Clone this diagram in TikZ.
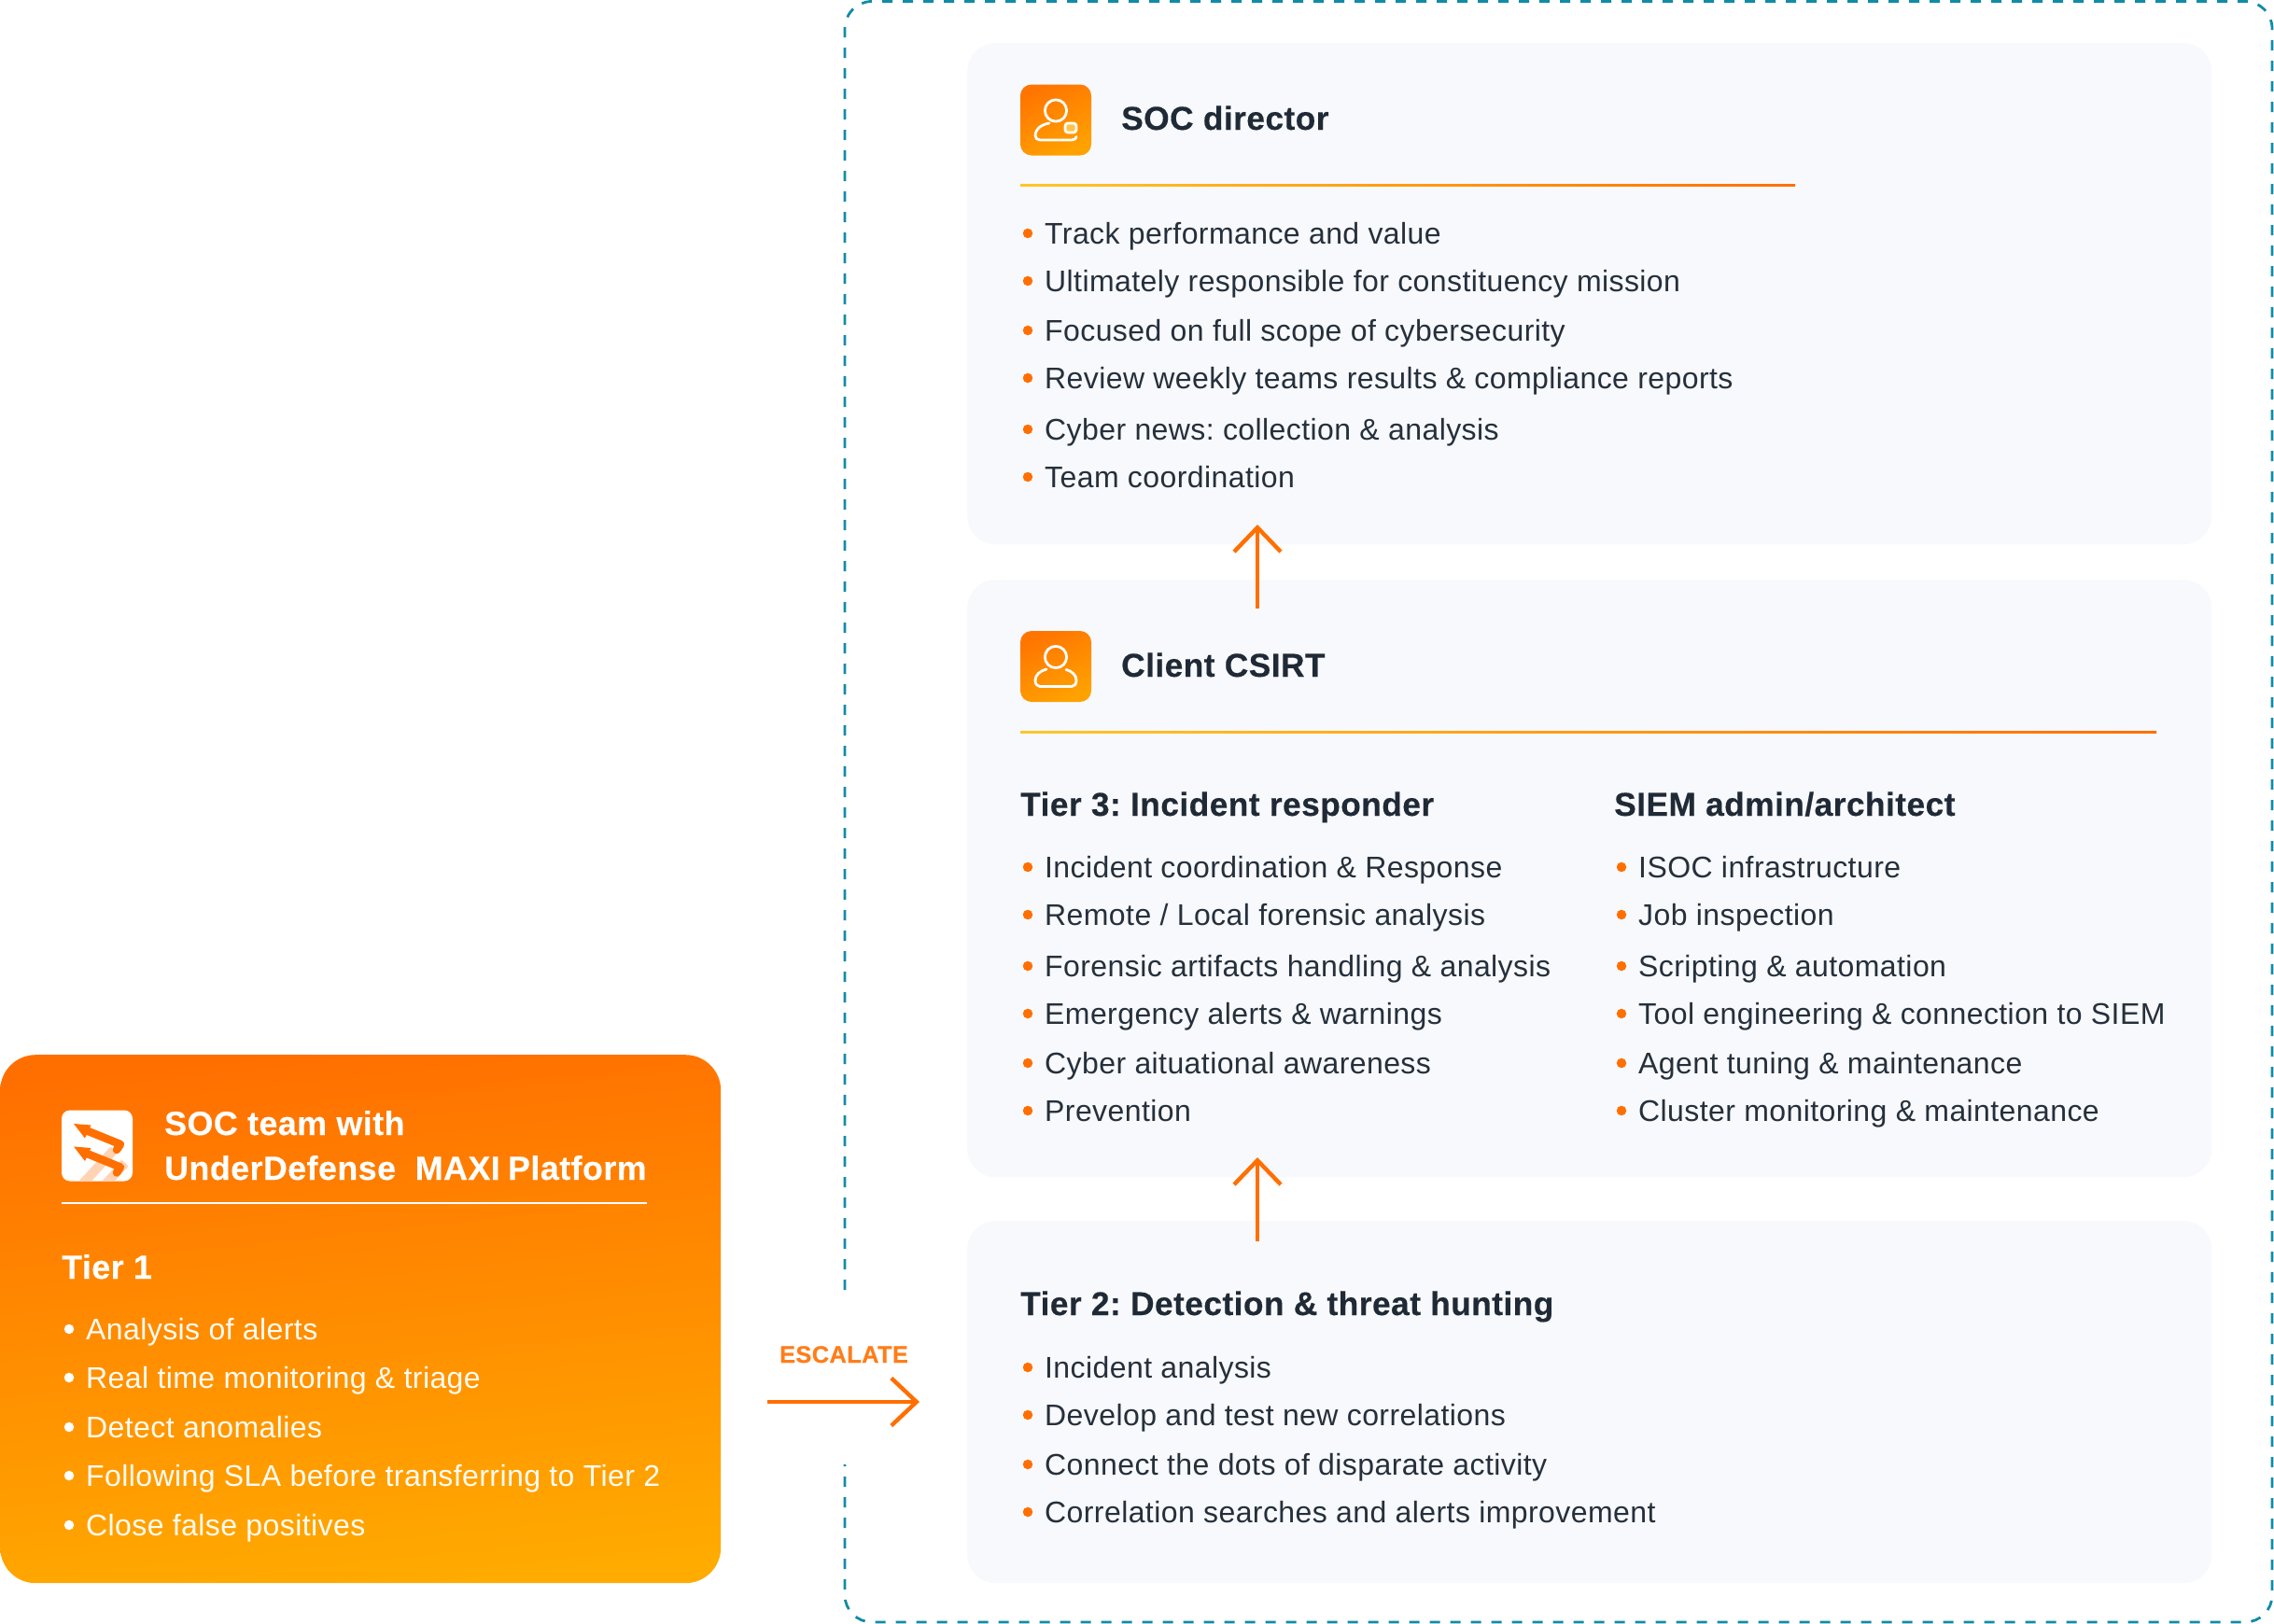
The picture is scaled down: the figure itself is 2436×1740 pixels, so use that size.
\documentclass[tikz,border=0pt]{standalone}
\usepackage{fontspec}
\usepackage{tikz}
\usetikzlibrary{arrows.meta}
\setmainfont[LetterSpace=1.3, BoldFeatures={FakeBold=0.3}]{Liberation Sans}
\definecolor{inkdark}{HTML}{1F2A36}
\definecolor{inkbody}{HTML}{25303B}
\definecolor{panelbg}{HTML}{F8F9FD}
\definecolor{dashteal}{HTML}{118BA6}
\definecolor{udorange}{HTML}{FF6F00}
\definecolor{udamber}{HTML}{FFAB00}
\definecolor{udyellow}{HTML}{FFC629}
\definecolor{udpeach}{HTML}{FFD3B4}
\tikzset{
	panel/.style={draw=none, fill=panelbg, rounded corners=30pt, anchor=north west, inner sep=0pt},
	iconbox/.style={rounded corners=12pt, minimum size=76pt, inner sep=0pt, top color=udorange!90!udamber, bottom color=udamber!85!udorange, shading angle=25},
	iconline/.style={draw=white, line width=2.8pt, line cap=round, line join=round},
	title/.style={anchor=base west, inner sep=0pt, text=inkdark, font=\fontsize{35.3}{40}\selectfont\bfseries},
	cardtitle/.style={anchor=base west, inner sep=0pt, text=white, font=\fontsize{35.8}{40}\selectfont\bfseries},
	item/.style={anchor=base west, inner sep=0pt, text=inkbody, font=\fontsize{32}{38}\selectfont},
	carditem/.style={item, text=white!96!udamber},
	dot/.style={circle, fill=udorange, minimum size=10.5pt, inner sep=0pt},
	carddot/.style={dot, fill=white},
	flow/.style={draw=udorange, line width=4.4pt, -{Straight Barb[length=26pt, width=50pt, line width=4.4pt]}},
	rulebar/.style={left color=udyellow, right color=udorange},
}

\begin{document}
\frenchspacing
\begin{tikzpicture}[x=1pt, y=-1pt]
	\useasboundingbox (0,0) rectangle (2436,1740);

	% dashed frame, open where the arrow goes through
	\draw[dashteal, line width=2.8pt, dash pattern=on 11pt off 11pt, rounded corners=29pt]
		(905,1382) -- (905,1.5) -- (2434,1.5) -- (2434,1738) -- (905,1738) -- (905,1569);

	% panels
	\node[panel, minimum width=1333pt, minimum height=537pt] (director) at (1036,46) {};
	\node[panel, minimum width=1333pt, minimum height=640pt] (csirt) at (1036,621) {};
	\node[panel, minimum width=1333pt, minimum height=388pt] (tier2) at (1036,1308) {};

	% SOC director
	\node[iconbox] (diricon) at (1131,128.5) {};
	\begin{scope}[shift={(diricon.center)}]
		\draw[iconline] (0,-10) circle[radius=11.6];
		\draw[iconline] (-7,3.5) .. controls (-16,5) and (-22,10) .. (-22,16.5) .. controls (-22,19.5) and (-20,21.5) .. (-17,21.5) -- (17,21.5) .. controls (20,21.5) and (22,20) .. (22,18);
		\draw[iconline, fill=udamber!70!white, rounded corners=3pt] (10,3.5) rectangle (22,13.5);
	\end{scope}
	\node[title] (dirtitle) at (1201,139) {SOC director};
	\shade[rulebar] (1093,197) rectangle (1923,199.5);
	\foreach \y/\txt in {261/{Track performance and value},
		312/{Ultimately responsible for constituency mission},
		365/{Focused on full scope of cybersecurity},
		416/{Review weekly teams results \& compliance reports},
		471/{Cyber news: collection \& analysis},
		522/{Team coordination}} {
		\node[dot] (dirdot\y) at (1101,\y-11) {};
		\node[item] (dir\y) at (1119,\y) {\txt};
	}

	% Client CSIRT
	\node[iconbox] (clicon) at (1131,714) {};
	\begin{scope}[shift={(clicon.center)}]
		\draw[iconline] (0,-10) circle[radius=11.6];
		\draw[iconline] (-10,3) .. controls (-17,5) and (-22,9) .. (-22,15) .. controls (-22,19) and (-20,21.5) .. (-17,21.5) -- (17,21.5) .. controls (20,21.5) and (22,19) .. (22,15) .. controls (22,9) and (17,5) .. (11,3.5);
	\end{scope}
	\node[title] (cltitle) at (1201,725) {Client CSIRT};
	\shade[rulebar] (1093,783) rectangle (2310,785.5);
	\node[title] (tier3) at (1093,874) {Tier 3: Incident responder};
	\node[title] (siem) at (1729,874) {SIEM admin/architect};
	\foreach \y/\txt in {940/{Incident coordination \& Response},
		991/{Remote / Local forensic analysis},
		1046/{Forensic artifacts handling \& analysis},
		1097/{Emergency alerts \& warnings},
		1150/{Cyber aituational awareness},
		1201/{Prevention}} {
		\node[dot] (irdot\y) at (1101,\y-11) {};
		\node[item] (ir\y) at (1119,\y) {\txt};
	}
	\foreach \y/\txt in {940/{ISOC infrastructure},
		991/{Job inspection},
		1046/{Scripting \& automation},
		1097/{Tool engineering \& connection to SIEM},
		1150/{Agent tuning \& maintenance},
		1201/{Cluster monitoring \& maintenance}} {
		\node[dot] (sidot\y) at (1737,\y-11) {};
		\node[item] (si\y) at (1755,\y) {\txt};
	}

	% Tier 2
	\node[title] (tier2title) at (1093,1409) {Tier 2: Detection \& threat hunting};
	\foreach \y/\txt in {1476/{Incident analysis},
		1527/{Develop and test new correlations},
		1580/{Connect the dots of disparate activity},
		1631/{Correlation searches and alerts improvement}} {
		\node[dot] (tdot\y) at (1101,\y-11) {};
		\node[item] (t\y) at (1119,\y) {\txt};
	}

	% orange card
	\node[panel, fill=none, rounded corners=38pt, minimum width=772pt, minimum height=566pt, top color=udorange, bottom color=udamber, shading angle=6] (card) at (0,1130) {};
	\node[rounded corners=9pt, fill=white, minimum size=76pt, inner sep=0pt] (logo) at (104,1227.5) {};
	\begin{scope}
		\clip[rounded corners=9pt] (66,1189.5) rectangle (142,1265.5);
		\draw[udpeach, line width=10pt] (87,1270) -- (122,1232);
		\draw[udpeach, line width=10pt] (112,1270) -- (134,1246);
		\foreach \dy in {0,24.5} {
			\draw[udorange, line width=8.5pt, line cap=round, line join=round] (92,1211+\dy) -- (129,1226+\dy) -- (125,1232+\dy);
			\fill[udorange] (79,1204+\dy) -- (97.5,1205.5+\dy) -- (91,1219.5+\dy) -- cycle;
		}
	\end{scope}
	\node[cardtitle] (cardtitle1) at (176,1216) {SOC team with};
	\node[cardtitle] (cardtitle2) at (176,1264) {UnderDefense\ \ MAXI\kern-2pt\ Platform};
	\draw[white, line width=2.4pt] (66,1289) -- (693,1289);
	\node[cardtitle] (tier1) at (66,1370) {Tier 1};
	\foreach \y/\txt in {1435/{Analysis of alerts},
		1487/{Real time monitoring \& triage},
		1540/{Detect anomalies},
		1592/{Following SLA before transferring to Tier 2},
		1645/{Close false positives}} {
		\node[carddot] (cdot\y) at (74,\y-11) {};
		\node[carditem] (c\y) at (92,\y) {\txt};
	}

	% escalate arrow
	\coordinate (escstart) at (822,1502);
	\coordinate (escend) at (985,1502);
	\node[font=\fontsize{25.5}{30}\selectfont\bfseries, text=udorange!90!white, inner sep=0pt, anchor=base] (esc) at (904,1460) {ESCALATE};
	\draw[flow, -{Straight Barb[length=27pt, width=51pt, line width=4.4pt]}] (escstart) -- (escend);

	% upward arrows
	\coordinate (upa) at (1347,652);
	\coordinate (upb) at (1347,562);
	\coordinate (upc) at (1347,1330);
	\coordinate (upd) at (1347,1240);
	\draw[flow] (upa) -- (upb);
	\draw[flow] (upc) -- (upd);
\end{tikzpicture}
\end{document}
